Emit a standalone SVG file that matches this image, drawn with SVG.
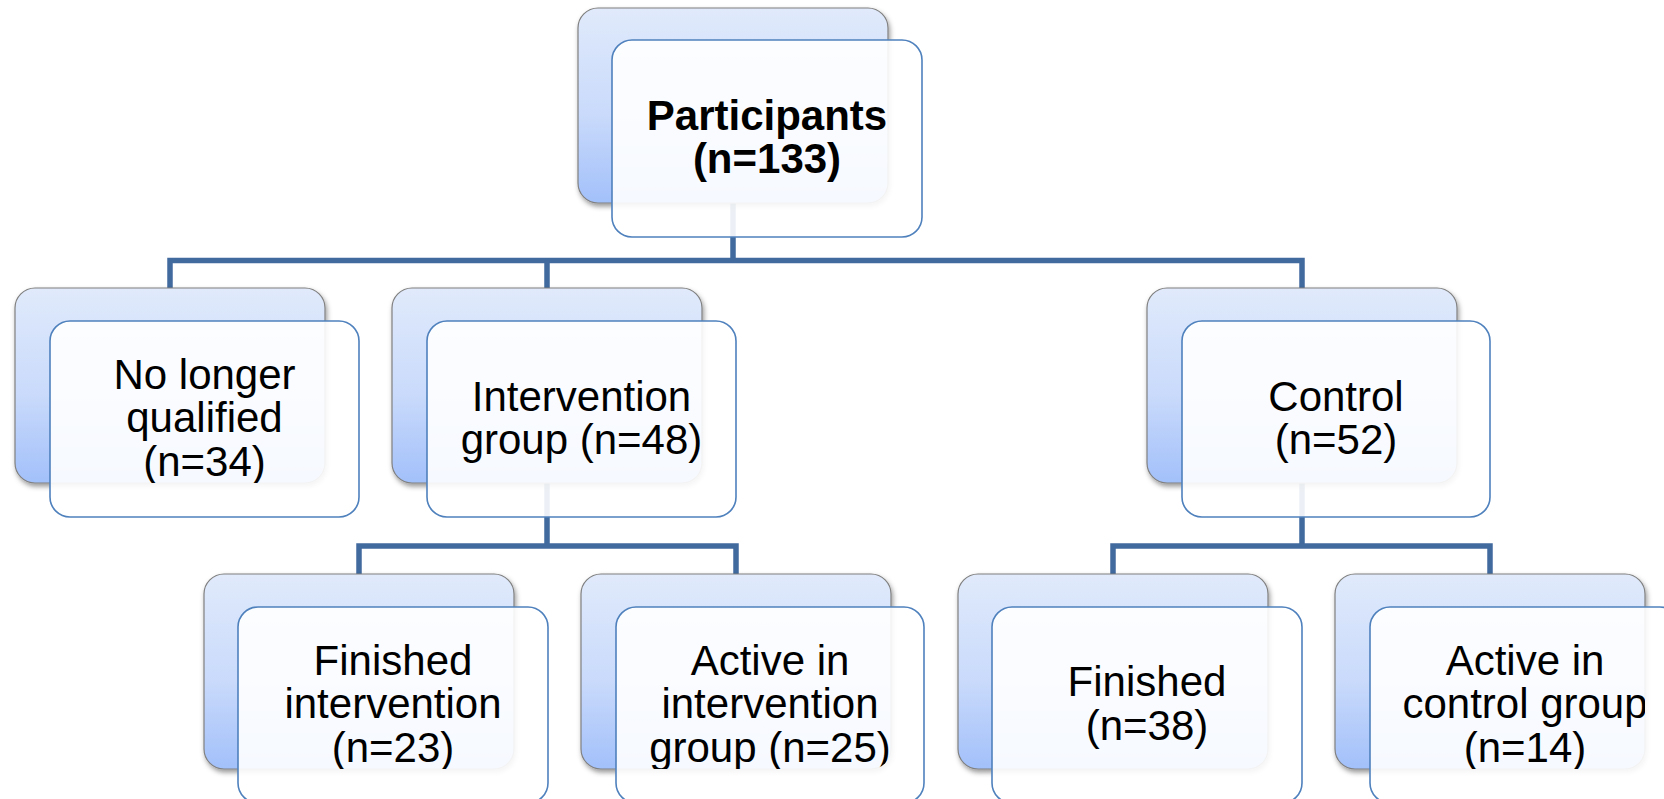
<svg xmlns="http://www.w3.org/2000/svg" width="1664" height="799" viewBox="0 0 1664 799">
<style>
.back{fill:url(#bg);stroke:#808080;stroke-width:1.2;filter:url(#sh)}
.front{fill:#ffffff;fill-opacity:0.9;stroke:#4F81BD;stroke-width:1.6}
.conn{fill:none;stroke:#416A9E;stroke-width:5.5;stroke-linejoin:miter}
.t{font-family:"Liberation Sans",Arial,sans-serif;font-size:42px;fill:#000;text-anchor:middle}
.b{font-weight:bold}
</style>
<defs>
<linearGradient id="bg" x1="0" y1="0" x2="0" y2="1">
<stop offset="0" stop-color="#E0EAFB"/>
<stop offset="0.55" stop-color="#C9DAFB"/>
<stop offset="1" stop-color="#A2C0FA"/>
</linearGradient>
<filter id="sh" x="-10%" y="-10%" width="125%" height="130%">
<feDropShadow dx="1.5" dy="3" stdDeviation="2.5" flood-color="#000" flood-opacity="0.4"/>
</filter>
<clipPath id="c1"><rect x="578" y="8" width="310" height="195" rx="20"/></clipPath>
<clipPath id="c2"><rect x="15" y="288" width="310" height="195" rx="20"/></clipPath>
<clipPath id="c3"><rect x="392" y="288" width="310" height="195" rx="20"/></clipPath>
<clipPath id="c4"><rect x="1147" y="288" width="310" height="195" rx="20"/></clipPath>
<clipPath id="c5"><rect x="204" y="574" width="310" height="195" rx="20"/></clipPath>
<clipPath id="c6"><rect x="581" y="574" width="310" height="195" rx="20"/></clipPath>
<clipPath id="c7"><rect x="958" y="574" width="310" height="195" rx="20"/></clipPath>
<clipPath id="c8"><rect x="1335" y="574" width="310" height="195" rx="20"/></clipPath>
</defs>
<rect width="1664" height="799" fill="#ffffff"/>
<g id="connectors">
<path class="conn" d="M733,203 V260.5"/>
<path class="conn" d="M170,288 V260.5 H1302 V288"/>
<path class="conn" d="M547,260.5 V288"/>
<path class="conn" d="M547,483 V546"/>
<path class="conn" d="M359,574 V546 H736 V574"/>
<path class="conn" d="M1302,483 V546"/>
<path class="conn" d="M1113,574 V546 H1490 V574"/>
</g>
<g id="participants">
<rect class="back" x="578" y="8" width="310" height="195" rx="20"/>
<rect class="front" x="612" y="40" width="310" height="197" rx="20"/>
<g clip-path="url(#c1)"><text class="t b" x="767" y="129.5">Participants</text><text class="t b" x="767" y="173">(n=133)</text></g>
</g>
<g id="no-longer-qualified">
<rect class="back" x="15" y="288" width="310" height="195" rx="20"/>
<rect class="front" x="50" y="321" width="309" height="196" rx="20"/>
<g clip-path="url(#c2)"><text class="t" x="204.5" y="388.5">No longer</text><text class="t" x="204.5" y="432">qualified</text><text class="t" x="204.5" y="475.5">(n=34)</text></g>
</g>
<g id="intervention">
<rect class="back" x="392" y="288" width="310" height="195" rx="20"/>
<rect class="front" x="427" y="321" width="309" height="196" rx="20"/>
<g clip-path="url(#c3)"><text class="t" x="581.5" y="410.5">Intervention</text><text class="t" x="581.5" y="454">group (n=48)</text></g>
</g>
<g id="control">
<rect class="back" x="1147" y="288" width="310" height="195" rx="20"/>
<rect class="front" x="1182" y="321" width="308" height="196" rx="20"/>
<g clip-path="url(#c4)"><text class="t" x="1336" y="410.5">Control</text><text class="t" x="1336" y="454">(n=52)</text></g>
</g>
<g id="finished-intervention">
<rect class="back" x="204" y="574" width="310" height="195" rx="20"/>
<rect class="front" x="238" y="607" width="310" height="196" rx="20"/>
<g clip-path="url(#c5)"><text class="t" x="393" y="674.5">Finished</text><text class="t" x="393" y="718">intervention</text><text class="t" x="393" y="761.5">(n=23)</text></g>
</g>
<g id="active-intervention">
<rect class="back" x="581" y="574" width="310" height="195" rx="20"/>
<rect class="front" x="616" y="607" width="308" height="196" rx="20"/>
<g clip-path="url(#c6)"><text class="t" x="770" y="674.5">Active in</text><text class="t" x="770" y="718">intervention</text><text class="t" x="770" y="761.5">group (n=25)</text></g>
</g>
<g id="finished-control">
<rect class="back" x="958" y="574" width="310" height="195" rx="20"/>
<rect class="front" x="992" y="607" width="310" height="196" rx="20"/>
<g clip-path="url(#c7)"><text class="t" x="1147" y="696">Finished</text><text class="t" x="1147" y="739.5">(n=38)</text></g>
</g>
<g id="active-control">
<rect class="back" x="1335" y="574" width="310" height="195" rx="20"/>
<rect class="front" x="1370" y="607" width="310" height="196" rx="20"/>
<g clip-path="url(#c8)"><text class="t" x="1525" y="674.5">Active in</text><text class="t" x="1525" y="718">control group</text><text class="t" x="1525" y="761.5">(n=14)</text></g>
</g>
</svg>
